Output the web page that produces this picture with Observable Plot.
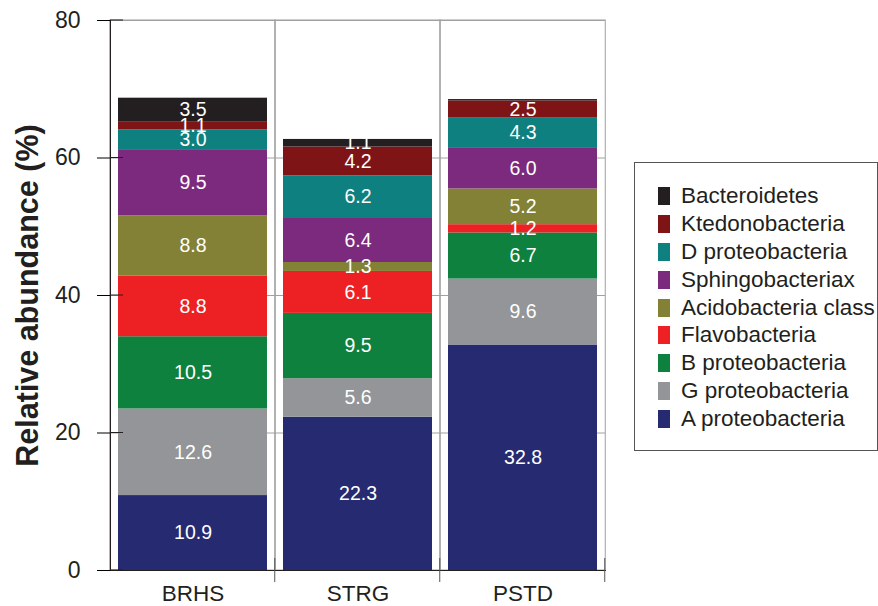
<!DOCTYPE html>
<html>
<head>
<meta charset="utf-8">
<script src="https://cdn.jsdelivr.net/npm/d3@7"></script>
<script src="https://cdn.jsdelivr.net/npm/@observablehq/plot@0.6"></script>
<style>
  body { margin: 0; background: #fff; font-family: "Liberation Sans", Arial, sans-serif; }
  #wrap { position: relative; width: 878px; height: 606px; }
  #legend { position: absolute; left: 634px; top: 162px; width: 244px; height: 289px; border: 1px solid #555; box-sizing: border-box; padding-top: 19px; }
  .item { display: flex; align-items: center; height: 27.9px; padding-left: 23px; font-size: 22.5px; color: #231f20; white-space: nowrap; }
  .sw { width: 12px; height: 18px; margin-right: 11px; flex: none; }
</style>
</head>
<body>
<div id="wrap"></div>
<script>
const categories = ["BRHS", "STRG", "PSTD"];
const series = ["A proteobacteria", "G proteobacteria", "B proteobacteria", "Flavobacteria", "Acidobacteria class", "Sphingobacteriax", "D proteobacteria", "Ktedonobacteria", "Bacteroidetes"];
const colors = ["#262a70", "#939598", "#0f813f", "#ed2024", "#828135", "#7c2a7e", "#0e8080", "#7f1416", "#231f20"];
const brhs = [10.9, 12.6, 10.5, 8.8, 8.8, 9.5, 3.0, 1.1, 3.5];
const strg = [22.3, 5.6, 9.5, 6.1, 1.3, 6.4, 6.2, 4.2, 1.1];
const pstd = [32.8, 9.6, 6.7, 1.2, 5.2, 6.0, 4.3, 2.5, 0.2];
const yTicks = [0, 20, 40, 60, 80];
const legendOrder = [...series].reverse();

const values = {BRHS: brhs, STRG: strg, PSTD: pstd};
const data = [];
for (const c of categories) series.forEach((s, i) => data.push({cat: c, series: s, value: values[c][i]}));

const chart = Plot.plot({
  width: 878, height: 606,
  marginLeft: 110, marginRight: 273, marginTop: 20, marginBottom: 36,
  style: {fontFamily: "'Liberation Sans', Arial, sans-serif", color: "#231f20"},
  x: {domain: categories, paddingInner: 0.1, paddingOuter: 0.05, label: null},
  y: {domain: [0, 80], ticks: yTicks, label: null},
  color: {domain: series, range: colors},
  marks: [
    Plot.gridY(yTicks, {stroke: "#a0a0a0", strokeOpacity: 1}),
    Plot.barY(categories, {x: d => d, y1: 0, y2: 80, fill: "none", stroke: "#a0a0a0", insetLeft: -8.25, insetRight: -8.25}),
    Plot.barY(data, {x: "cat", y: "value", fill: "series", z: "series", order: series}),
    Plot.text(data, Plot.stackY({x: "cat", y: "value", z: "series", order: series,
      text: d => d.value >= 0.5 ? d.value.toFixed(1) : "", fill: "white", fontSize: 19.5})),
    Plot.axisX({tickSize: 0, tickPadding: 15, fontSize: 22.5, label: null}),
    Plot.axisY({ticks: yTicks, tickSize: 13, tickPadding: 17, fontSize: 23, label: null, stroke: "black"}),
    Plot.frame({anchor: "left", stroke: "#231f20"}),
    Plot.frame({anchor: "bottom", stroke: "#231f20"}),
    Plot.text(["Relative abundance (%)"], {frameAnchor: "left", textAnchor: "middle", rotate: -90, dx: -82, fontSize: 30.5, fontWeight: "bold", fill: "#231f20"})
  ]
});

// inward tick halves and band-boundary ticks, from the chart's own scales
const svg = d3.select(chart);
const ys = chart.scale("y");
const xs = chart.scale("x");
const x0 = xs.range[0];
svg.append("g").selectAll("line").data(yTicks).join("line")
  .attr("x1", x0).attr("x2", x0 + 13)
  .attr("y1", d => ys.apply(d)).attr("y2", d => ys.apply(d))
  .attr("stroke", "#231f20");
const step = xs.step;
const y0 = ys.apply(0);
svg.append("g").selectAll("line").data(categories).join("line")
  .attr("x1", c => xs.apply(c) - step * 0.05 + step)
  .attr("x2", c => xs.apply(c) - step * 0.05 + step)
  .attr("y1", y0 - 12).attr("y2", y0 + 12)
  .attr("stroke", "#555");

const wrap = document.getElementById("wrap");
wrap.appendChild(chart);
const legend = document.createElement("div");
legend.id = "legend";
for (const s of legendOrder) {
  const it = document.createElement("div");
  it.className = "item";
  const sw = document.createElement("span");
  sw.className = "sw";
  sw.style.background = colors[series.indexOf(s)];
  it.appendChild(sw);
  it.appendChild(document.createTextNode(s));
  legend.appendChild(it);
}
wrap.appendChild(legend);
</script>
</body>
</html>
